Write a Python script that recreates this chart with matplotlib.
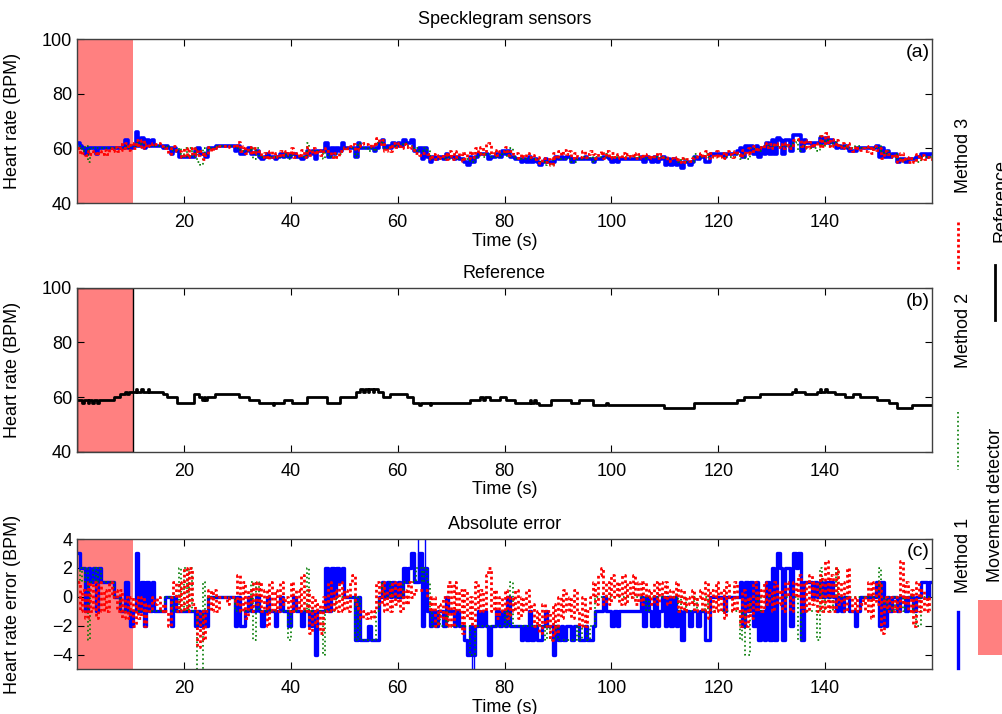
import numpy as np
import matplotlib.pyplot as plt
from matplotlib.lines import Line2D
from matplotlib.patches import Rectangle

plt.rcParams['font.family'] = ['Liberation Sans', 'DejaVu Sans']
plt.rcParams['font.size'] = 13

# reference heart rate, (start time in s, BPM), held until the next step
ref_steps = [
    (0, 59), (1.0, 58), (1.3, 59), (2.0, 58), (2.3, 59), (2.9, 58), (3.2, 59), (3.8, 58), (4.1, 59),
    (7.0, 60), (8.0, 61), (9.0, 62), (9.3, 61), (9.7, 62), (11.0, 63), (11.3, 62), (12.0, 63),
    (12.3, 62), (13.2, 63), (13.5, 62), (16.0, 61), (16.9, 60), (18.8, 58), (21.9, 61), (22.8, 60),
    (23.4, 59), (23.7, 60), (24.0, 59), (24.3, 60), (25.9, 61), (30.3, 60), (32.1, 59), (34.0, 58),
    (36.6, 57), (36.9, 58), (38.7, 59), (40.2, 58), (43.0, 60), (46.7, 58), (49.2, 60), (52.3, 62),
    (53.0, 63), (53.6, 62), (53.9, 63), (54.4, 62), (54.7, 63), (55.3, 62), (55.6, 63), (56.4, 62),
    (57.3, 60), (58.6, 61), (61.7, 60), (62.9, 58), (64.0, 57), (64.3, 58), (66.0, 57), (66.3, 58),
    (73.5, 59), (75.4, 60), (76.0, 59), (76.3, 60), (77.2, 59), (79.1, 60), (80.3, 59), (81.9, 58),
    (84.7, 59), (85.0, 58), (85.6, 59), (85.9, 58), (86.5, 57), (88.7, 59), (92.5, 58), (94.0, 59),
    (96.5, 57), (99.0, 58), (99.3, 57), (109.9, 56), (115.5, 58), (123.5, 59), (124.8, 60),
    (127.9, 61), (133.8, 62), (134.3, 63), (134.6, 62), (136.3, 61), (138.5, 62), (139.0, 63),
    (139.3, 62), (140.0, 63), (140.3, 62), (141.9, 61), (143.8, 60), (145.3, 61), (146.5, 60),
    (149.7, 59), (151.9, 58), (153.4, 56), (156.2, 57),
]
t_end = 160
movement = (0, 10.5)

# estimation error (BPM), one value every 0.5 s, one row per 10 s
dt = 0.5
m1_err = [
    3, 2, 2, -1, 2, 1, 2, -1, 2, 1, 1, 1, 1, 1, 0, 0, -1, -1, 1, -1,
    -2, -1, 3, -1, 1, -2, 1, -1, 1, -1, -1, -1, -1, 0, 0, -2, 0, -1, -1, -1,
    -1, -1, -1, -1, -2, -1, -2, -1, -2, 0, 0, 0, 0, 0, 0, 0, 0, 0, 0, -2,
    0, -2, -2, -1, 0, -1, -1, 0, -1, -2, -1, 0, -1, -1, -2, -1, 0, -1, -1, -2,
    -1, 0, -1, -1, -2, -1, -1, -2, -1, -4, -1, -1, -1, 2, -1, 2, 0, 2, 1, 2,
    0, 0, 0, 0, -3, 0, -3, -3, -3, -2, -3, -3, -3, 0, 1, 0, 1, 0, 1, 0,
    1, 0, 2, 1, 2, 3, 1, 1, 3, -2, 2, -1, -2, -1, -2, -1, -1, -2, 0, -1,
    -1, -2, -1, -2, -2, -3, -4, -2, -4, -2, -1, -2, -1, -2, -4, -2, -2, -1, -2, -1,
    -2, 0, -2, -2, -2, -2, -3, -2, -3, -1, -3, -2, -3, -3, -2, -1, -2, -2, -4, -2,
    -3, -2, -3, -2, -2, -3, -2, -2, -3, -3, -2, -3, -3, -2, -1, -1, -1, 0, -1, -1,
    -2, -1, -2, -1, -1, -1, -1, -1, -1, -1, -1, 0, -2, 0, -1, -2, 0, -2, -1, 0,
    -2, 0, -2, 0, -2, -1, -3, -1, -1, -2, -1, -1, -2, -1, -1, -3, -3, 0, 0, 0,
    0, 0, -1, 0, 0, 0, 0, 0, 1, -2, 1, -1, 1, -2, 1, -3, -1, -3, 1, -3,
    2, -3, 3, 2, -3, 2, 2, -2, 3, 2, 3, -3, 1, 1, 1, 0, 1, 0, 1, 0,
    1, 0, 1, 0, -1, 0, -1, 0, 0, -1, -1, -2, -1, 0, 0, 0, 0, 0, 0, 1,
    -2, 1, -2, 0, -1, 0, 0, -1, 0, 0, -1, 0, 0, -1, 0, 0, 1, 1, 0, 1,
]
m2_err = [
    1, 2, 1, 2, -3, 1, 2, 1, 2, 1, 1, 1, 1, 1, 0, 0, -1, -1, -1, -1,
    -1, -1, -1, -1, -1, -1, -1, -1, -1, -1, -1, -1, -1, 0, 0, 0, -1, -1, 2, -1,
    2, -1, 2, -1, -1, -6, -6, 1, -1, 0, 0, 0, 0, 0, 0, 0, 0, 0, 0, -1,
    -1, -1, -1, -1, -1, 1, -3, 1, -1, -1, -1, -1, -1, -1, -1, -1, -1, -1, -1, -3,
    -1, -1, -1, -1, -1, -1, 2, -1, -1, -1, -1, -1, -4, -1, -1, -1, -1, 0, 0, 0,
    0, 0, 0, 0, -3, 0, -3, -3, -3, -3, -3, -3, -1, 0, 1, 0, 0, 1, 0, 0,
    0, 0, 1, 1, 1, 1, 1, 2, 2, 1, 2, 1, -1, -2, -2, -1, -2, -2, -1, -2,
    -2, -2, -2, -2, -2, -2, -2, -4, -4, -2, -2, -2, -2, -2, -2, -2, -2, -2, -2, -2,
    -1, -2, 1, -2, -2, -2, -2, -2, -2, -2, -2, -2, -2, -2, -2, -3, -2, -3, -3, -2,
    -3, -3, -3, -3, -3, -3, -3, -2, -3, -2, -2, -3, -2, -2, 0, 0, 0, 0, 0, 0,
    0, 0, 0, 0, 0, 0, 0, 0, 0, 0, 0, 0, 0, -1, 0, 0, 0, 0, 0, 0,
    0, 0, 0, 0, 0, -1, 0, 0, -1, -1, -1, 0, -1, -1, -1, 0, -1, -1, -1, -1,
    -1, -1, -1, -1, -1, -1, -1, -1, -3, -1, -4, -4, 0, 0, 0, -1, 0, 0, 0, 0,
    0, 0, 0, 0, 0, 0, 0, 0, 0, 0, -3, -1, -1, -1, -1, -1, -1, -3, 2, -1,
    0, 0, -1, 0, 2, 0, 0, 0, 0, 0, 0, 0, 0, 0, 0, 0, 0, 0, 0, 0,
    2, 0, -1, 0, 0, -1, 0, 0, 0, -1, 0, 0, 0, -1, -2, -2, 0, 0, 0, 0,
]
m3_err = [
    1, -1, 0.5, -1.5, 1, -1, 1, -1.5, 1, -1, 0.5, -1, 1, 0, 0.5, -1, 0.5, -1.5, 0, -1.5,
    0, -2, 0, -1.5, 0, -2, -0.5, -1, 0, -0.5, 0, -1, -0.5, -1, -2, 0, 1, -1, 1, -1,
    2, -1, 2, -0.5, -1, -3.5, -1, -3, -1, 0.5, -1, 0.5, -1, 0, 0, 0, -0.5, 0, 0, -0.5,
    1.5, -1, 1, -1.5, 0.5, -1, 1, -0.5, 1, -1, 0.5, -2, 1, -1, 0.5, -1, 1, -0.5, 0, -1,
    1, -1, 0.5, -1, 1.5, -1, 0.5, -2.5, 0, -2, -0.5, -2.5, 0, -1, 1, -1, 0.5, -1, 1, -1,
    0.5, -1, 1, 1.5, -0.5, -1, -1.5, -1, -1.5, -1, -1.5, -1, 1, -0.5, 1, -1, 0.5, -1, 1, -0.5,
    1, -1, 0.5, -0.5, 1, 0, 0.5, 0.5, 0.5, 0.5, 0.5, 0, -1, 0, -2, -0.5, -1.5, 0, -2, 1,
    -2, 1, -1, 0.5, -2.5, 0.5, -1.5, 0, -2, 1, -1, 0.5, -1, 1.5, 2, -1, 0.5, -1.5, 0, -1,
    0.5, -1.5, 0, -1, 0.5, -1.5, 0, -1, 0.5, -1, -0.5, -2, -1, -2.5, -0.5, -2, -1, -3, -0.5, -2.5,
    0, -1.5, 0.5, -1, 0, -1.5, 0.5, -1, -2, 0, -2, -1, 0, 1, -0.5, 1.5, 2, -0.5, 1, -0.5,
    1.5, 0, 1, -0.5, 1.5, -0.5, 1, 0, 1.5, -0.5, 1, -0.5, 1, 0, 0.5, -0.5, 1, -0.5, 1, 0,
    1, -0.5, 0.5, 0, 1, -1, 0.5, -1, 0, -0.5, 0.5, -1, 0, 0.5, -1, 1, -1.5, 0.5, -1, 1,
    -1, 0.5, -1.5, 1, 0, -1, 1, -1, -2, 0.5, -2, 0, -1.5, 1, -1, 0.5, -1, 1, -0.5, 0.5,
    -1, 1, -0.5, 0.5, -1, 1, 0, -1, 1, 0, 1.5, -1, 1, -1, 1.5, -0.5, 1, -1, 1.5, -1,
    2.5, -1, 1.5, -1, 2, -0.5, 1, -1, 2, 0, -1, 0, -1, -0.5, 0, -1, 1, -1.5, 1, -0.5,
    1, -2.5, 0, -1, 0, -1, 0, -1, 2.5, -0.5, 1, -1, 0.5, -2, 1, -1, 0.5, -1, 0, -1,
]
# short outliers of method 1 in the error trace: (time, from, to)
m1_outliers = [(63.9, 1, 6), (65.1, 1, 6), (73.9, -2, -7), (74.3, -2, -7)]

c_m1, c_m2, c_m3, c_mov = '#0000ff', '#007a00', '#ff0000', '#ff8080'
dots = (0, (1, 1))

ref_t = np.array([s[0] for s in ref_steps])
ref_v = np.array([s[1] for s in ref_steps], dtype=float)
tg = np.arange(len(m1_err)) * dt
ref_g = ref_v[np.searchsorted(ref_t, tg, side='right') - 1]


def ext(t, v):
    return np.append(t, t_end), np.append(v, v[-1])


fig = plt.figure(figsize=(10.02, 7.14), dpi=100)
W, H = 1002, 714


def box(top, bottom):
    return [77 / W, 1 - bottom / H, 855 / W, (bottom - top) / H]


ax_a = fig.add_axes(box(39.3, 203))
ax_b = fig.add_axes(box(287.7, 451.7))
ax_c = fig.add_axes(box(539, 669))

for ax in (ax_a, ax_b, ax_c):
    ax.set_xlim(0, t_end)
    ax.set_xticks(range(20, 160, 20))
    ax.tick_params(direction='in', top=True, right=True, length=5, width=0.8, labelsize=13)
    ax.tick_params(axis='x', pad=8)
    for sp in ax.spines.values():
        sp.set_color('#404040')
        sp.set_linewidth(1)
    ax.set_xlabel('Time (s)', labelpad=1)

# (a) estimated heart rates
ax_a.axvspan(*movement, color=c_mov, lw=0, zorder=0)
ax_a.step(*ext(tg, ref_g + np.array(m1_err)), where='post', color=c_m1, lw=2.6)
ax_a.step(*ext(tg, ref_g + np.array(m2_err)), where='post', color=c_m2, lw=1.2, ls=':')
ax_a.step(*ext(tg, ref_g + np.array(m3_err)), where='post', color=c_m3, lw=2, ls=dots)
ax_a.set_ylim(40, 100)
ax_a.set_yticks([40, 60, 80, 100])
ax_a.set_ylabel('Heart rate (BPM)')
ax_a.set_title('Specklegram sensors', fontsize=13, pad=11)

# (b) reference
ax_b.axvspan(*movement, facecolor=c_mov, edgecolor='black', lw=1, zorder=0)
ax_b.step(*ext(ref_t, ref_v), where='post', color='black', lw=2)
ax_b.set_ylim(40, 100)
ax_b.set_yticks([40, 60, 80, 100])
ax_b.set_ylabel('Heart rate (BPM)')
ax_b.set_title('Reference', fontsize=13, pad=7)

# (c) errors
ax_c.axvspan(*movement, color=c_mov, lw=0, zorder=0)
ax_c.step(*ext(tg, np.array(m1_err, dtype=float)), where='post', color=c_m1, lw=2.4)
for t0, y0, y1 in m1_outliers:
    ax_c.plot([t0, t0], [y0, y1], color=c_m1, lw=1)
ax_c.step(*ext(tg, np.array(m2_err, dtype=float)), where='post', color=c_m2, lw=1.2, ls=':')
ax_c.step(*ext(tg, np.array(m3_err, dtype=float)), where='post', color=c_m3, lw=2, ls=dots)
ax_c.set_ylim(-5, 4)
ax_c.set_yticks([-4, -2, 0, 2, 4])
ax_c.set_ylabel('Heart rate error (BPM)')
ax_c.set_title('Absolute error', fontsize=13, pad=7)

for ax in (ax_a, ax_b, ax_c):
    ax.yaxis.set_label_coords(-0.066, 0.5)

for ax, lab in ((ax_a, '(a)'), (ax_b, '(b)'), (ax_c, '(c)')):
    ax.text(0.997, 0.97, lab, transform=ax.transAxes, ha='right', va='top', fontsize=14)

# rotated legend at the right edge


def fx(x):
    return x / W


def fy(y):
    return 1 - y / H


leg_lines = [
    ('Method 3', c_m3, 2, dots, 958, 155, 222, 270),
    ('Method 2', c_m2, 1.2, ':', 958, 330, 412, 470),
    ('Method 1', c_m1, 2.4, '-', 958, 555, 612, 668),
    ('Reference', 'black', 2, '-', 995, 200, 265, 320),
]
for lab, col, lw, ls, x, ytext, y0, y1 in leg_lines:
    fig.add_artist(Line2D([fx(x), fx(x)], [fy(y0), fy(y1)], color=col, lw=lw, ls=ls))
    fig.text(fx(x + 6), fy(ytext), lab, rotation=90, ha='center', va='center', fontsize=13)
fig.add_artist(Rectangle((fx(978), fy(655)), fx(30), 55 / H, facecolor=c_mov, edgecolor='none'))
fig.text(fx(995), fy(505), 'Movement detector', rotation=90, ha='center', va='center', fontsize=13)

fig.savefig('out.png', dpi=100)
